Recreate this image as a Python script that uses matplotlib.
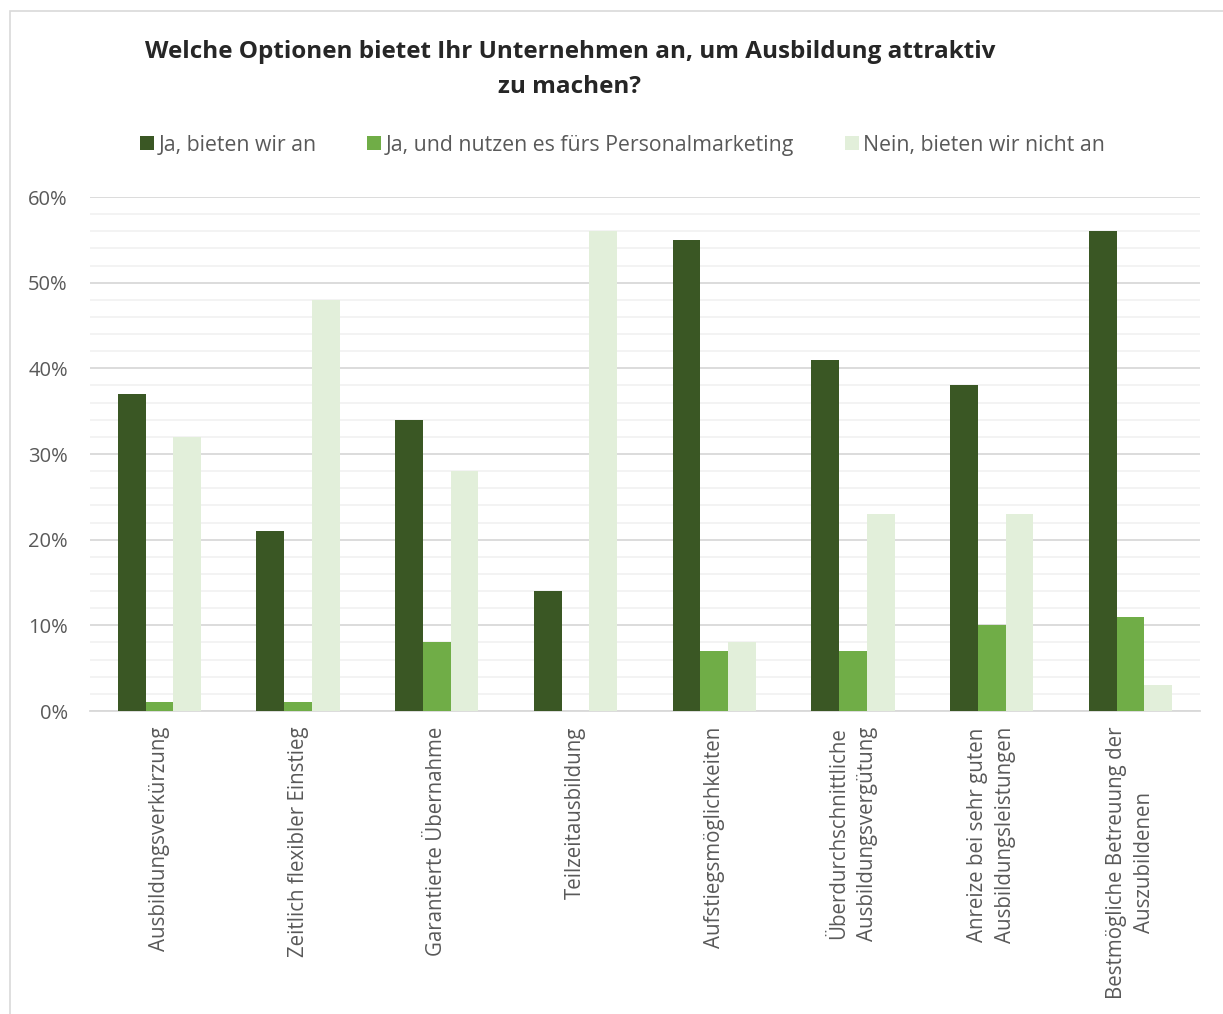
import numpy as np
import matplotlib.pyplot as plt
from matplotlib.patches import Rectangle
from matplotlib.ticker import MultipleLocator, PercentFormatter

plt.rcParams['font.family'] = ['Open Sans', 'DejaVu Sans']

categories = [
    "Ausbildungsverkürzung",
    "Zeitlich flexibler Einstieg",
    "Garantierte Übernahme",
    "Teilzeitausbildung",
    "Aufstiegsmöglichkeiten",
    "Überdurchschnittliche\nAusbildungsvergütung",
    "Anreize bei sehr guten\nAusbildungsleistungen",
    "Bestmögliche Betreuung der\nAuszubildenen",
]
series_names = [
    "Ja, bieten wir an",
    "Ja, und nutzen es fürs Personalmarketing",
    "Nein, bieten wir nicht an",
]
ja_bieten = [37, 21, 34, 14, 55, 41, 38, 56]
ja_marketing = [1, 1, 8, 0, 7, 7, 10, 11]
nein = [32, 48, 28, 56, 8, 23, 23, 3]

colors = ["#3A5724", "#70AD47", "#E2EFDA"]
text_col = "#595959"

fig = plt.figure(figsize=(12.23, 10.14), dpi=100)
ax = fig.add_axes([0.0736, 0.2988, 0.9074, 0.5069])

x = np.arange(len(categories))
w = 0.2
for i, (vals, name) in enumerate(zip([ja_bieten, ja_marketing, nein], series_names)):
    ax.bar(x + (i - 1) * w, np.array(vals) / 100, width=w, color=colors[i],
           label=name, zorder=3)

ax.set_xlim(-0.5, len(categories) - 0.5)
ax.set_ylim(0, 0.6)
ax.yaxis.set_major_locator(MultipleLocator(0.1))
ax.yaxis.set_minor_locator(MultipleLocator(0.02))
ax.yaxis.set_major_formatter(PercentFormatter(1.0, decimals=0))
ax.grid(axis='y', which='major', color='#D9D9D9', lw=1.3, zorder=0)
ax.grid(axis='y', which='minor', color='#F2F2F2', lw=1.3, zorder=0)
ax.tick_params(axis='y', which='both', length=0, labelsize=14.5, labelcolor=text_col, pad=16)
ax.tick_params(axis='x', length=0, pad=11)
for s in ['top', 'right', 'left']:
    ax.spines[s].set_visible(False)
ax.spines['bottom'].set_color('#D9D9D9')
ax.spines['bottom'].set_linewidth(1.3)

ax.set_xticks(x)
ax.set_xticklabels(categories, rotation=90, fontsize=14.8, color=text_col,
                   ha='center', va='top', multialignment='center', linespacing=1.45)

fig.text(0.466, 0.949, "Welche Optionen bietet Ihr Unternehmen an, um Ausbildung attraktiv",
         ha='center', va='center', fontsize=17.5, fontweight='bold', color='#262626')
fig.text(0.466, 0.914, "zu machen?", ha='center', va='center', fontsize=17.5,
         fontweight='bold', color='#262626')

leg = fig.legend(loc='center', bbox_to_anchor=(0.509, 0.857), ncol=3, frameon=False,
                 fontsize=15.3, handlelength=0.65, handleheight=0.65, handletextpad=0.2,
                 columnspacing=2.4)
for t in leg.get_texts():
    t.set_color(text_col)

fig.patches.append(Rectangle((10 / 1223, -0.1), 1.2, 1 - 11 / 1014 + 0.1,
                             transform=fig.transFigure, fill=False,
                             edgecolor='#D9D9D9', lw=1.2))

fig.savefig('out.png', dpi=100)
